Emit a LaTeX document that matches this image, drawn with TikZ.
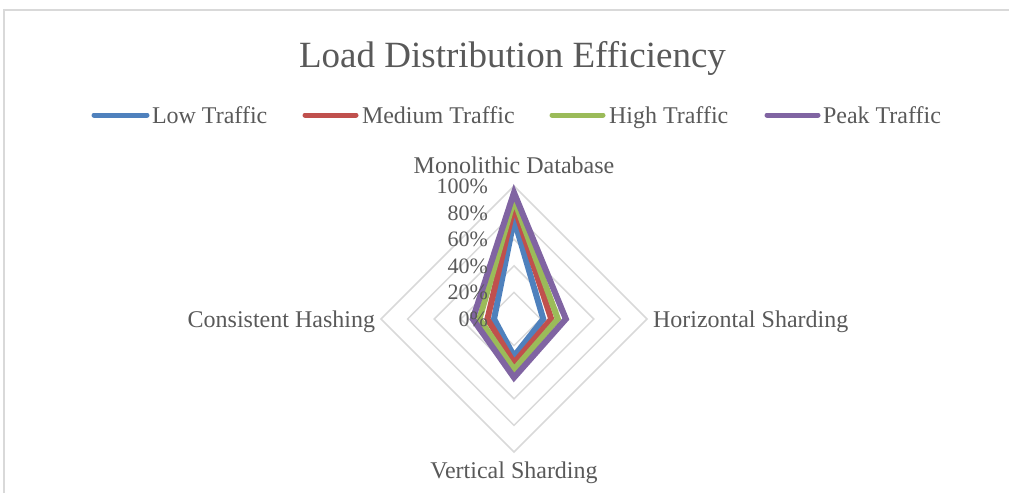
\documentclass[tikz,border=0pt]{standalone}
\usepackage{fontspec}
\setmainfont{Liberation Serif}
\definecolor{txt}{HTML}{595959}
\definecolor{gridc}{HTML}{D9D9D9}
\definecolor{sLow}{HTML}{4F81BD}
\definecolor{sMed}{HTML}{C0504D}
\definecolor{sHigh}{HTML}{9BBB59}
\definecolor{sPeak}{HTML}{8064A2}
\begin{document}
\begin{tikzpicture}[x=1pt,y=-1pt,
  every node/.style={text=txt,inner sep=0pt,outer sep=0pt},
  frameline/.style={draw=gridc,line width=1.5pt},
  gridline/.style={draw=gridc,line width=1.5pt},
  titletext/.style={font=\fontsize{37}{40}\selectfont},
  labeltext/.style={font=\fontsize{24}{26}\selectfont},
  ticktext/.style={font=\fontsize{22}{24}\selectfont,anchor=base east},
  series/.style={line width=6pt,miter limit=10},
  legline/.style={line width=5pt,line cap=round}]
\useasboundingbox (0,0) rectangle (1009,493);
% frame
\draw[frameline] (4,493) -- (4,10) -- (1009,10);
% title
\node[titletext,anchor=base] (title) at (512.5,67) {Load Distribution Efficiency};
% legend
\coordinate (l1a) at (94,115); \coordinate (l1b) at (147,115);
\coordinate (l2a) at (305,115); \coordinate (l2b) at (356,115);
\coordinate (l3a) at (552,115); \coordinate (l3b) at (603,115);
\coordinate (l4a) at (767,115); \coordinate (l4b) at (818,115);
\draw[legline,sLow] (l1a) -- (l1b);
\draw[legline,sMed] (l2a) -- (l2b);
\draw[legline,sHigh] (l3a) -- (l3b);
\draw[legline,sPeak] (l4a) -- (l4b);
\node[labeltext,anchor=base west] (leg1) at (152,123) {Low Traffic};
\node[labeltext,anchor=base west] (leg2) at (362,123) {Medium Traffic};
\node[labeltext,anchor=base west] (leg3) at (609,123) {High Traffic};
\node[labeltext,anchor=base west] (leg4) at (823,123) {Peak Traffic};
% radar
\def\cx{514}\def\cy{319}\def\R{133}
\coordinate (c) at (\cx,\cy);
\foreach \k in {1,...,5}{
  \pgfmathsetmacro{\r}{\R*\k/5}
  \draw[gridline] (\cx,\cy-\r) -- (\cx+\r,\cy) -- (\cx,\cy+\r) -- (\cx-\r,\cy) -- cycle;
}
% series: top, right, bottom, left
\foreach \t/\rr/\b/\l/\col in {0.75/0.22/0.28/0.15/sLow, 0.85/0.28/0.33/0.20/sMed, 0.90/0.33/0.38/0.26/sHigh, 0.95/0.39/0.44/0.31/sPeak}{
  \draw[series,draw=\col] (\cx,\cy-\t*\R) -- (\cx+\rr*\R,\cy) -- (\cx,\cy+\b*\R) -- (\cx-\l*\R,\cy) -- cycle;
}
% tick labels
\foreach \k/\lab in {0/0\%,1/20\%,2/40\%,3/60\%,4/80\%,5/100\%}{
  \node[ticktext] (tick\k) at (488,\cy-\k*\R/5+7.5) {\lab};
}
% axis labels
\node[labeltext,anchor=base] (axTop) at (514,173) {Monolithic Database};
\node[labeltext,anchor=base west] (axRight) at (653,327) {Horizontal Sharding};
\node[labeltext,anchor=base] (axBottom) at (514,478) {Vertical Sharding};
\node[labeltext,anchor=base east] (axLeft) at (375,327) {Consistent Hashing};
\end{tikzpicture}
\end{document}
